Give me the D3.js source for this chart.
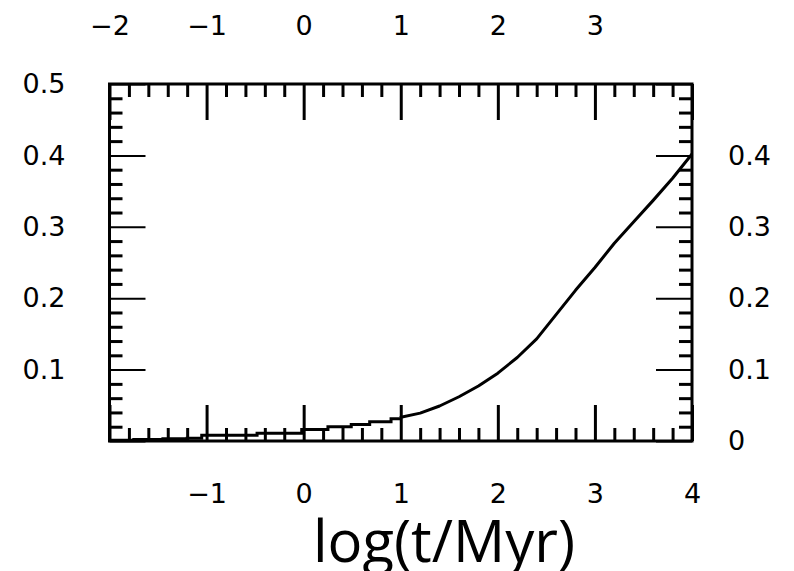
<!DOCTYPE html>
<html>
<head>
<meta charset="utf-8">
<script src="https://cdn.jsdelivr.net/npm/d3@7"></script>
<style>
  html, body { margin: 0; padding: 0; background: #fff; }
  svg { display: block; }
  .tick text { font-family: "DejaVu Sans", sans-serif; font-size: 27px; fill: #000; }
</style>
</head>
<body>
<svg id="chart" width="794" height="571"></svg>
<script>
// Cumulative fraction against log(t/Myr).
// Early part is a stepped histogram-like build-up.
const earlyT    = [-2.0, -1.75, -1.45, -1.2, -1.05, -0.48, -0.02, 0.25, 0.49, 0.68, 0.90, 0.99];
const earlyFrac = [0.001, 0.002, 0.003, 0.004, 0.008, 0.011, 0.016, 0.020, 0.023, 0.027, 0.031, 0.033];
// Later part rises smoothly.
const lateT    = [0.99, 1.2, 1.4, 1.6, 1.8, 2.0, 2.2, 2.4, 2.6, 2.8, 3.0, 3.2, 3.4, 3.6, 3.8, 4.0];
const lateFrac = [0.033, 0.039, 0.049, 0.062, 0.077, 0.095, 0.117, 0.143, 0.177, 0.211, 0.243, 0.277, 0.307, 0.337, 0.368, 0.402];

// Tick values for each side
const topTicks    = [-2, -1, 0, 1, 2, 3];
const bottomTicks = [-1, 0, 1, 2, 3, 4];
const xMajor      = [-2, -1, 0, 1, 2, 3, 4];
const leftTicks   = [0.1, 0.2, 0.3, 0.4, 0.5];
const rightTicks  = [0, 0.1, 0.2, 0.3, 0.4];
const yMajor      = [0, 0.1, 0.2, 0.3, 0.4, 0.5];
const xTitle = "log(t/Myr)";

const svg = d3.select("#chart");
const x0 = 109.5, x1 = 692, yTop = 84, yBot = 441;

const x = d3.scaleLinear().domain([-2, 4]).range([x0, x1]);
const y = d3.scaleLinear().domain([0, 0.5]).range([yBot, yTop]);

const xMinor = d3.range(-2, 4.0001, 0.2).filter(v => Math.abs(v - Math.round(v)) > 1e-6);
const yMinor = d3.range(0, 0.5001, 0.02).filter(v => Math.abs(v * 10 - Math.round(v * 10)) > 1e-6);

const majorLen = 36, minorLen = 13;
const fmtX = d3.format("d");
const fmtY = d => d === 0 ? "0" : d3.format(".1f")(d);

function style(g, w) {
  g.select(".domain").remove();
  g.selectAll(".tick line").attr("stroke", "#000").attr("stroke-width", w);
  return g;
}

// minor ticks on all four sides
style(svg.append("g").attr("transform", `translate(0,${yBot})`)
  .call(d3.axisBottom(x).tickValues(xMinor).tickSize(-minorLen).tickFormat("")), 3);
style(svg.append("g").attr("transform", `translate(0,${yTop})`)
  .call(d3.axisTop(x).tickValues(xMinor).tickSize(-minorLen).tickFormat("")), 3);
style(svg.append("g").attr("transform", `translate(${x0},0)`)
  .call(d3.axisLeft(y).tickValues(yMinor).tickSize(-minorLen).tickFormat("")), 3);
style(svg.append("g").attr("transform", `translate(${x1},0)`)
  .call(d3.axisRight(y).tickValues(yMinor).tickSize(-minorLen).tickFormat("")), 3);

// major ticks
style(svg.append("g").attr("transform", `translate(0,${yBot})`)
  .call(d3.axisBottom(x).tickValues(xMajor).tickSize(-majorLen).tickFormat("")), 3);
style(svg.append("g").attr("transform", `translate(0,${yTop})`)
  .call(d3.axisTop(x).tickValues(xMajor).tickSize(-majorLen).tickFormat("")), 3);
style(svg.append("g").attr("transform", `translate(${x0},0)`)
  .call(d3.axisLeft(y).tickValues(yMajor).tickSize(-majorLen).tickFormat("")), 2);
style(svg.append("g").attr("transform", `translate(${x1},0)`)
  .call(d3.axisRight(y).tickValues(yMajor).tickSize(-majorLen).tickFormat("")), 2);

// tick labels
function labels(g) {
  g.select(".domain").remove();
  g.selectAll(".tick line").remove();
  return g;
}
labels(svg.append("g").attr("transform", `translate(0,${yBot})`)
  .call(d3.axisBottom(x).tickValues(bottomTicks).tickSize(0).tickPadding(43).tickFormat(fmtX)));
labels(svg.append("g").attr("transform", `translate(0,${yTop})`)
  .call(d3.axisTop(x).tickValues(topTicks).tickSize(0).tickPadding(49).tickFormat(fmtX)));
labels(svg.append("g").attr("transform", `translate(${x0},0)`)
  .call(d3.axisLeft(y).tickValues(leftTicks).tickSize(0).tickPadding(44).tickFormat(fmtY)));
labels(svg.append("g").attr("transform", `translate(${x1},0)`)
  .call(d3.axisRight(y).tickValues(rightTicks).tickSize(0).tickPadding(36).tickFormat(fmtY)));

// frame
svg.append("rect")
  .attr("x", x0).attr("y", yTop)
  .attr("width", x1 - x0).attr("height", yBot - yTop)
  .attr("fill", "none").attr("stroke", "#000").attr("stroke-width", 3);

// curve
const early = earlyT.map((t, i) => [t, earlyFrac[i]]);
const late = lateT.map((t, i) => [t, lateFrac[i]]);

svg.append("path")
  .datum(early)
  .attr("fill", "none").attr("stroke", "#000").attr("stroke-width", 3)
  .attr("d", d3.line().x(d => x(d[0])).y(d => y(d[1])).curve(d3.curveStepAfter));

svg.append("path")
  .datum(late)
  .attr("fill", "none").attr("stroke", "#000").attr("stroke-width", 3)
  .attr("stroke-linejoin", "round")
  .attr("d", d3.line().x(d => x(d[0])).y(d => y(d[1])));

// axis title
svg.append("text")
  .attr("x", 444).attr("y", 562)
  .attr("text-anchor", "middle")
  .style("font-family", "'Open Sans', sans-serif")
  .style("font-size", "58px")
  .attr("fill", "#000")
  .text(xTitle);
</script>
</body>
</html>
